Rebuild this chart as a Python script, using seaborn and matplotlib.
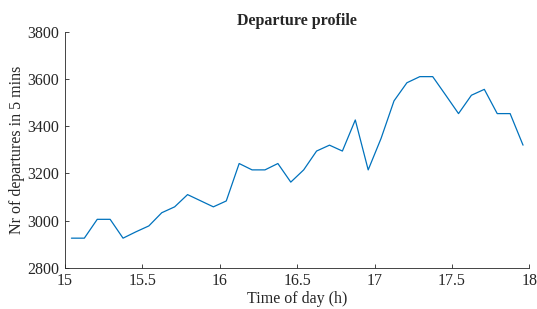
import numpy as np
import pandas as pd
import matplotlib
matplotlib.use("Agg")
import matplotlib.pyplot as plt
import seaborn as sns

# ── data (5-minute bins, bin centres) ─────────────────
time_h = 15 + 1 / 24 + np.arange(36) / 12
departures = [
    2925, 2925, 3005, 3005, 2925, 2952, 2977, 3033, 3058, 3110,
    3084, 3058, 3083, 3242, 3215, 3215, 3242, 3163, 3215, 3295,
    3320, 3295, 3427, 3215, 3349, 3508, 3585, 3611, 3611, 3533,
    3454, 3532, 3557, 3454, 3454, 3320,
]
x_ticks = [15, 15.5, 16, 16.5, 17, 17.5, 18]
y_ticks = [2800, 3000, 3200, 3400, 3600, 3800]

df = pd.DataFrame({"time": time_h, "departures": departures})

# ── style ─────────────────────────────────────────────
sns.set_style("ticks")
plt.rcParams["font.family"] = ["Liberation Serif", "DejaVu Serif"]
plt.rcParams["xtick.direction"] = "in"
plt.rcParams["ytick.direction"] = "in"

fig = plt.figure(figsize=(5.37, 3.09), dpi=100)
ax = fig.add_axes([0.121, 0.134, 0.865, 0.762])

sns.lineplot(data=df, x="time", y="departures", color="#0072BD", linewidth=0.9, ax=ax)

ax.set_xlim(15, 18)
ax.set_ylim(2800, 3800)
ax.set_xticks(x_ticks)
ax.set_xticklabels([f"{t:g}" for t in x_ticks])
ax.set_yticks(y_ticks)
ax.tick_params(length=3, width=0.6, colors="#262626", labelsize=11.5)
ax.tick_params(axis="x", pad=4)
ax.tick_params(axis="y", pad=4)
for side in ["left", "bottom"]:
    ax.spines[side].set_linewidth(0.6)
    ax.spines[side].set_color("#262626")
sns.despine(ax=ax)

ax.set_title("Departure profile", fontsize=11.5, fontweight="bold", pad=5)
ax.set_xlabel("Time of day (h)", fontsize=11.5, labelpad=1)
ax.set_ylabel("Nr of departures in 5 mins", fontsize=11.5, labelpad=2)

fig.savefig("out.png", dpi=100)
